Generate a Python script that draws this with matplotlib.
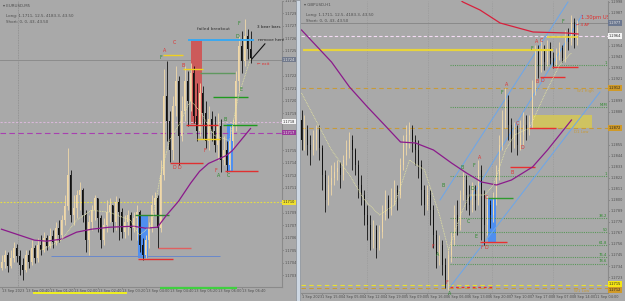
import matplotlib
matplotlib.use("Agg")
import matplotlib.pyplot as plt
import numpy as np
from matplotlib.patches import Rectangle

# ---------------- data: left panel (EURUSD M5) ----------------
left_open0 = 1.17032
left_close = [1.17038,1.17045,1.17034,1.17042,1.17052,1.17044,1.17035,1.17030,1.17045,1.17038,
              1.17052,1.17042,1.17055,1.17050,1.17062,1.17054,1.17064,1.17058,1.17072,1.17065,
              1.17080,1.17094,1.17125,1.17085,1.17092,1.17105,1.17110,1.17085,1.17060,1.17078,
              1.17090,1.17102,1.17082,1.17060,1.17075,1.17088,1.17095,1.17078,1.17098,1.17088,
              1.17068,1.17078,1.17085,1.17072,1.17082,1.17088,1.17055,1.17045,1.17060,1.17072,
              1.17095,1.17102,1.17072,1.17125,1.17205,1.17180,1.17150,1.17195,1.17220,1.17165,
              1.17190,1.17220,1.17200,1.17228,1.17185,1.17170,1.17208,1.17188,1.17160,1.17182,
              1.17170,1.17155,1.17175,1.17140,1.17150,1.17135,1.17160,1.17175,1.17220,1.17255,
              1.17240,1.17265,1.17252,1.17243]
left_high = [1.17045,1.17050,1.17048,1.17050,1.17058,1.17056,1.17050,1.17042,1.17050,1.17050,
             1.17060,1.17055,1.17062,1.17065,1.17068,1.17065,1.17072,1.17070,1.17078,1.17080,
             1.17085,1.17105,1.17152,1.17130,1.17105,1.17110,1.17118,1.17112,1.17090,1.17085,
             1.17095,1.17105,1.17102,1.17085,1.17082,1.17100,1.17102,1.17095,1.17104,1.17102,
             1.17092,1.17085,1.17090,1.17088,1.17088,1.17095,1.17090,1.17062,1.17065,1.17078,
             1.17105,1.17108,1.17105,1.17140,1.17232,1.17240,1.17190,1.17205,1.17235,1.17225,
             1.17205,1.17235,1.17230,1.17238,1.17235,1.17218,1.17218,1.17215,1.17200,1.17195,
             1.17190,1.17185,1.17188,1.17182,1.17165,1.17160,1.17175,1.17182,1.17230,1.17265,
             1.17270,1.17282,1.17272,1.17270]
left_low = [1.17030,1.17032,1.17028,1.17032,1.17038,1.17038,1.17025,1.17020,1.17028,1.17032,
            1.17035,1.17037,1.17038,1.17045,1.17048,1.17050,1.17052,1.17052,1.17055,1.17058,
            1.17062,1.17075,1.17090,1.17078,1.17075,1.17082,1.17090,1.17078,1.17048,1.17045,
            1.17070,1.17080,1.17068,1.17052,1.17055,1.17068,1.17078,1.17068,1.17070,1.17060,
            1.17062,1.17062,1.17065,1.17060,1.17068,1.17060,1.17048,1.17040,1.17042,1.17052,
            1.17068,1.17085,1.17052,1.17068,1.17120,1.17160,1.17138,1.17140,1.17185,1.17135,
            1.17160,1.17180,1.17175,1.17190,1.17178,1.17160,1.17165,1.17162,1.17152,1.17150,
            1.17160,1.17148,1.17140,1.17128,1.17135,1.17128,1.17130,1.17150,1.17170,1.17210,
            1.17228,1.17235,1.17242,1.17238]
left_ma_idx = [0, 11, 15, 20, 25, 30, 36, 44, 48, 52, 55, 59, 63, 66, 69, 75, 77, 83]
left_ma_val = [1.17071,1.17060,1.17059,1.17061,1.17068,1.17071,1.17073,1.17074,1.17072,1.17073,
               1.17085,1.17099,1.17117,1.17129,1.17137,1.17145,1.17150,1.17172]
left_fast_idx = [13, 20, 25, 30, 36, 43, 46, 50, 53, 56, 59, 63, 66, 71, 76, 79, 83]
left_fast_val = [1.17050,1.17060,1.17080,1.17090,1.17088,1.17080,1.17065,1.17075,1.17125,1.17160,
                 1.17175,1.17200,1.17190,1.17165,1.17160,1.17205,1.17242]
left_xlabels = ["13 Sep 2023","13 Sep 00:40","13 Sep 01:20","13 Sep 02:00","13 Sep 02:40",
                "13 Sep 03:20","13 Sep 04:00","13 Sep 04:40","13 Sep 05:20","13 Sep 06:00",
                "13 Sep 06:40"]

# ---------------- data: right panel (GBPUSD H1) ----------------
right_open0 = 1.2880
right_close = [1.2860,1.2870,1.2855,1.2850,1.2860,1.2870,1.2852,1.2825,1.2800,1.2815,
               1.2822,1.2828,1.2832,1.2825,1.2840,1.2850,1.2860,1.2850,1.2835,1.2815,
               1.2805,1.2785,1.2775,1.2760,1.2770,1.2752,1.2768,1.2785,1.2800,1.2790,
               1.2802,1.2810,1.2805,1.2835,1.2855,1.2865,1.2870,1.2860,1.2850,1.2835,
               1.2810,1.2795,1.2805,1.2790,1.2765,1.2745,1.2755,1.2735,1.2720,1.2745,
               1.2760,1.2785,1.2775,1.2805,1.2820,1.2805,1.2795,1.2810,1.2800,1.2830,
               1.2805,1.2775,1.2795,1.2785,1.2800,1.2825,1.2855,1.2880,1.2900,1.2875,
               1.2860,1.2870,1.2855,1.2865,1.2875,1.2870,1.2878,1.2910,1.2948,1.2935,
               1.2950,1.2938,1.2952,1.2942,1.2935,1.2945,1.2952,1.2942,1.2962,1.2958,
               1.2978,1.2960,1.2972]
right_high = [1.2890,1.2885,1.2875,1.2865,1.2870,1.2875,1.2875,1.2855,1.2830,1.2825,
              1.2835,1.2838,1.2840,1.2838,1.2845,1.2860,1.2868,1.2865,1.2852,1.2840,
              1.2825,1.2810,1.2795,1.2785,1.2780,1.2775,1.2775,1.2795,1.2810,1.2805,
              1.2812,1.2820,1.2815,1.2842,1.2865,1.2875,1.2878,1.2875,1.2865,1.2860,
              1.2840,1.2815,1.2815,1.2810,1.2795,1.2770,1.2765,1.2760,1.2742,1.2750,
              1.2768,1.2795,1.2800,1.2810,1.2828,1.2825,1.2815,1.2818,1.2815,1.2840,
              1.2835,1.2810,1.2805,1.2800,1.2808,1.2835,1.2865,1.2890,1.2912,1.2905,
              1.2882,1.2878,1.2875,1.2880,1.2888,1.2885,1.2885,1.2920,1.2955,1.2955,
              1.2960,1.2955,1.2960,1.2958,1.2948,1.2952,1.2958,1.2955,1.2970,1.2972,
              1.2985,1.2982,1.2980]
right_low = [1.2850,1.2850,1.2845,1.2835,1.2845,1.2850,1.2840,1.2810,1.2788,1.2795,
             1.2805,1.2815,1.2820,1.2812,1.2820,1.2835,1.2842,1.2830,1.2825,1.2802,
             1.2795,1.2775,1.2760,1.2750,1.2752,1.2742,1.2750,1.2762,1.2780,1.2782,
             1.2785,1.2795,1.2790,1.2802,1.2830,1.2845,1.2852,1.2848,1.2835,1.2822,
             1.2795,1.2785,1.2790,1.2775,1.2752,1.2732,1.2735,1.2725,1.2712,1.2710,
             1.2738,1.2755,1.2765,1.2770,1.2800,1.2790,1.2785,1.2788,1.2790,1.2795,
             1.2760,1.2755,1.2765,1.2772,1.2778,1.2795,1.2820,1.2850,1.2872,1.2860,
             1.2848,1.2852,1.2845,1.2850,1.2855,1.2860,1.2865,1.2872,1.2905,1.2922,
             1.2928,1.2930,1.2934,1.2936,1.2932,1.2934,1.2940,1.2938,1.2938,1.2950,
             1.2955,1.2952,1.2955]
right_ma_idx = [0, 10, 16, 22, 28, 33, 38, 44, 50, 55, 60, 65, 70, 77, 82, 90]
right_ma_val = [1.2970,1.2938,1.2913,1.2893,1.2874,1.2858,1.2857,1.2850,1.2837,1.2827,
                1.2818,1.2815,1.2820,1.2833,1.2850,1.2880]
right_slow_idx = [50, 53.8, 59.5, 66.2, 77.2, 88.5, 92.2]
right_slow_val = [1.3008,1.2998,1.2990,1.2977,1.2968,1.2967,1.2966]
right_fast_idx = [0, 10, 16, 21, 26, 31, 36, 41, 46, 49, 53, 56, 61, 64, 68, 71, 76, 81, 86, 90]
right_fast_val = [1.2907,1.2850,1.2825,1.2800,1.2785,1.2795,1.2840,1.2830,1.2785,1.2750,
                  1.2785,1.2805,1.2805,1.2815,1.2850,1.2865,1.2872,1.2905,1.2935,1.2947]
right_xlabels = ["1 Sep 2023","1 Sep 15:00","4 Sep 05:00","4 Sep 12:00","4 Sep 19:00",
                 "5 Sep 09:00","5 Sep 16:00","6 Sep 06:00","6 Sep 13:00","6 Sep 20:00",
                 "7 Sep 10:00","7 Sep 17:00","8 Sep 07:00","8 Sep 14:00","11 Sep 04:00"]
fib_levels = [1.2935, 1.2893, 1.2824, 1.2782, 1.2768, 1.2755, 1.2743, 1.2736]
fib_labels = ["1", "M.M", "1", "38.2", "50", "61.8", "76.4", "78.6"]

# ---------------- style ----------------
BG = "#a9a9a9"
BULL = "#f0d8a8"
BEAR = "#111111"
TXT = "#4d4d4d"
FS = 2.9
TFS = 2.5

fig = plt.figure(figsize=(6.25, 3.01), dpi=100, facecolor=BG)
W, H = 625.0, 301.0

def axes_px(x0, y0, x1, y1):
    return fig.add_axes([x0 / W, 1 - y1 / H, (x1 - x0) / W, (y1 - y0) / H])

axL = axes_px(0, 1, 282, 287)
axR = axes_px(301, 1, 608, 293)

for ax in (axL, axR):
    ax.set_facecolor(BG)
    for s in ("top", "left"):
        ax.spines[s].set_visible(False)
    for s in ("right", "bottom"):
        ax.spines[s].set_color("#8a8a8a")
        ax.spines[s].set_linewidth(0.8)
    ax.yaxis.tick_right()
    ax.tick_params(axis="both", labelsize=TFS, colors=TXT, length=1.0, width=0.5, pad=0.6)

def draw_candles(ax, open0, close, high, low):
    n = len(close)
    idx = np.arange(n)
    c = np.array(close); h = np.array(high); l = np.array(low)
    o = np.concatenate([[open0], c[:-1]])
    bull = c >= o
    col = np.where(bull, BULL, BEAR)
    ax.vlines(idx, l, h, colors=col, lw=0.6, zorder=3)
    bottom = np.minimum(o, c)
    height = np.maximum(np.abs(c - o), 1e-7)
    ax.bar(idx, height, bottom=bottom, width=0.62, color=col, linewidth=0, zorder=4)

def tag(ax, y, text, fc, tc="#222222"):
    ax.annotate(text, xy=(1.0, y), xycoords=("axes fraction", "data"),
                xytext=(0.6, 0), textcoords="offset points", fontsize=TFS, color=tc,
                va="center", ha="left", annotation_clip=False, zorder=10,
                bbox=dict(boxstyle="square,pad=0.2", fc=fc, ec="none"))

def free_ticks(ticks, tags, gap):
    return [t for t in ticks if all(abs(t - g) > gap for g in tags)]

# ================= LEFT PANEL =================
left_tags = [1.17241, 1.17179, 1.17168, 1.17098]
axL.set_xlim(-0.5, 93.5)
axL.set_ylim(1.17013, 1.17299)
axL.set_yticks(free_ticks(np.arange(1.17025, 1.17300, 0.000125), left_tags, 0.00007))
axL.yaxis.set_major_formatter(matplotlib.ticker.FormatStrFormatter("%.4f"))
axL.set_xticks(np.arange(0, 84, 8))
axL.set_xticklabels(left_xlabels, ha="left")

axL.axvline(5.5, color="#8c8c8c", lw=0.6, ls=(0, (1, 1)), zorder=1)
axL.axhline(1.17241, color="#8c8c8c", lw=0.7, zorder=1)
axL.axhline(1.17179, color="#d8b8d8", lw=0.8, ls=(0, (2, 1.5)), zorder=2)
axL.axhline(1.17168, color="#a840b0", lw=0.8, ls=(0, (5, 3)), zorder=2)
axL.axhline(1.17098, color="#e8e040", lw=0.8, ls=(0, (1.5, 1.5)), zorder=2)

axL.add_patch(Rectangle((63.2, 1.17177), 3.6, 0.00084, fc="#cc5a5a", ec="none", zorder=1.5))
axL.add_patch(Rectangle((45.5, 1.17042), 3.3, 0.00043, fc="#4f8ff0", ec="none", zorder=1.5))
axL.add_patch(Rectangle((75.2, 1.17128), 2.0, 0.00049, fc="#4f8ff0", ec="none", zorder=1.5))

axL.hlines(1.17261, 62.2, 84.2, color="#3aa8f0", lw=1.4, zorder=5)
for y, x0, x1 in [(1.17246, 53.8, 60.5), (1.17232, 60.5, 67.2), (1.17162, 65.2, 72.8)]:
    axL.hlines(y, x0, x1, color="#f0d020", lw=1.0, zorder=5)
for y, x0, x1, c in [(1.17228, 66.2, 77.8, "#5f985f"), (1.17204, 70.5, 82.2, "#1f9a1f"),
                     (1.17176, 73.8, 85.2, "#1f9a1f"), (1.17085, 44.5, 55.8, "#2f8a2f")]:
    axL.hlines(y, x0, x1, color=c, lw=1.0, zorder=5)
for y, x0, x1, c in [(1.17176, 61.5, 72.2, "#e02828"), (1.17137, 56.2, 67.2, "#e03030"),
                     (1.17129, 74.5, 85.5, "#e03030"), (1.17052, 52.2, 63.2, "#e06060"),
                     (1.17041, 45.5, 57.2, "#e03030")]:
    axL.hlines(y, x0, x1, color=c, lw=1.0, zorder=5)
axL.hlines(1.17044, 16.5, 72.8, color="#6a88cc", lw=0.7, zorder=2)

axL.plot(left_ma_idx, left_ma_val, color="#8b1a8b", lw=0.9, zorder=6)
axL.plot(left_fast_idx, left_fast_val, color="#e8e8a0", lw=0.6, ls=(0, (1, 1)), zorder=6)
draw_candles(axL, left_open0, left_close, left_high, left_low)

axL.hlines(1.17007, 10.5, 41.8, color="#f0f020", lw=1.4, clip_on=False, zorder=7)
axL.hlines(1.17012, 52.8, 78.5, color="#40d040", lw=1.6, clip_on=False, zorder=7)

for s, x, y, c in [("A", 54.5, 1.17250, "#e03030"), ("F", 53.2, 1.17243, "#2a8a2a"),
                   ("C", 57.5, 1.17258, "#e03030"), ("B", 60.5, 1.17235, "#e03030"),
                   ("F", 79.2, 1.17277, "#2a8a2a"), ("D", 78.5, 1.17264, "#2a8a2a"),
                   ("E", 79.8, 1.17211, "#2a8a2a"), ("B", 74.5, 1.17181, "#2a8a2a"),
                   ("F", 67.8, 1.17150, "#e03030"), ("D", 57.5, 1.17133, "#e03030"),
                   ("D", 59.2, 1.17133, "#e03030"), ("F", 71.5, 1.17130, "#e03030"),
                   ("A", 72.5, 1.17125, "#2a8a2a"), ("C", 75.5, 1.17125, "#2a8a2a")]:
    axL.text(x, y, s, color=c, fontsize=3.4, ha="center", va="center", zorder=8)
axL.text(70.8, 1.17272, "failed breakout", fontsize=3.2, color="#333333", ha="center", va="center", zorder=8)
axL.text(85.3, 1.17274, "3 bear bars", fontsize=3.0, color="#222222", ha="left", va="center", zorder=8)
axL.text(85.6, 1.17261, "remove here", fontsize=3.0, color="#222222", ha="left", va="center", zorder=8)
axL.text(85.2, 1.17237, "\u2190 exit", fontsize=3.0, color="#e03030", ha="left", va="center", zorder=8)
axL.plot([83.5, 87.8], [1.17242, 1.17257], color="#111111", lw=0.8, zorder=8)
axL.text(0.5, 1.17297, "\u25be EURUSD,M5", fontsize=FS, color=TXT, va="top", zorder=8)
axL.text(1.5, 1.17287, "Long: 1.1711, 12.5, 4183.3, 43.50", fontsize=FS, color=TXT, va="top", zorder=8)
axL.text(1.5, 1.17281, "Short: 0, 0, 43, 43.50", fontsize=FS, color=TXT, va="top", zorder=8)

tag(axL, 1.17241, "1.1724", "#727a8c", "#e8e8e8")
tag(axL, 1.17179, "1.1718", "#f4f4f4")
tag(axL, 1.17168, "1.1717", "#9a3a9a", "#eeeeee")
tag(axL, 1.17098, "1.1710", "#f0e030")

# ================= RIGHT PANEL =================
right_tags = [1.2977, 1.2964, 1.2912, 1.2872, 1.2715, 1.2711]
axR.set_xlim(-0.1667, 102.17)
axR.set_ylim(1.2707, 1.2999)
axR.set_yticks(free_ticks(np.arange(1.2723, 1.2999, 0.0011), right_tags, 0.0006))
axR.yaxis.set_major_formatter(matplotlib.ticker.FormatStrFormatter("%.4f"))
axR.set_xticks(np.arange(0, 102, 7))
axR.set_xticklabels(right_xlabels, ha="left")

for xv in [21.8, 42.2, 63.5, 83.8]:
    axR.axvline(xv, color="#959595", lw=0.5, ls=(0, (1, 1.5)), zorder=1)
axR.axhline(1.2977, color="#8a8a8a", lw=0.7, zorder=1)
axR.axhline(1.2964, color="#f4dcf4", lw=0.8, ls=(0, (3, 2)), zorder=2)
axR.axhline(1.2912, color="#c89a38", lw=0.8, ls=(0, (4, 3)), zorder=2)
axR.axhline(1.2872, color="#c89a38", lw=0.8, ls=(0, (4, 3)), zorder=2)
axR.axhline(1.2715, color="#e8e030", lw=0.8, ls=(0, (4, 3)), zorder=2)
axR.axhline(1.2712, color="#c89a38", lw=0.8, ls=(0, (4, 3)), zorder=2)
for lv in fib_levels:
    axR.hlines(lv, 49.5, 102.17, color="#5a985a", lw=0.8, ls=(0, (1, 1)), zorder=2)

axR.add_patch(Rectangle((77.2, 1.2872), 19.6, 0.0013, fc="#d4c65a", ec="none", alpha=0.9, zorder=1.5))
axR.add_patch(Rectangle((62.2, 1.2758), 2.6, 0.0044, fc="#4f8ff0", ec="none", zorder=1.5))

for (xa, ya), (xb, yb) in [((46.17, 1.2800), (88.83, 1.2998)),
                           ((56.17, 1.2800), (93.5, 1.2985)),
                           ((49.5, 1.2713), (99.5, 1.2908))]:
    axR.plot([xa, xb], [ya, yb], color="#6aa6ec", lw=0.7, zorder=2)

axR.hlines(1.2950, 0.5, 84, color="#e8d43a", lw=1.6, zorder=5)
axR.hlines(1.2963, 81.8, 92.2, color="#e8d43a", lw=1.2, zorder=5)
for y, x0, x1, ls in [(1.2923, 79.5, 87.8, "-"), (1.2933, 83.5, 92.2, "-"), (1.2872, 76, 85, "-"),
                      (1.2833, 69.5, 77.8, "-"), (1.2758, 59.5, 68.5, "-"), (1.2713, 49.5, 63.5, (0, (2, 2)))]:
    axR.hlines(y, x0, x1, color="#e83030", lw=1.0, ls=ls, zorder=5)
axR.hlines(1.2802, 62.2, 70.5, color="#2f9a2f", lw=1.0, zorder=5)

axR.plot(right_ma_idx, right_ma_val, color="#8b1a8b", lw=0.9, zorder=6)
axR.plot(right_slow_idx, right_slow_val, color="#d8203c", lw=0.9, zorder=6)
axR.plot(right_fast_idx, right_fast_val, color="#e8e8a0", lw=0.6, ls=(0, (1, 1)), zorder=6)
draw_candles(axR, right_open0, right_close, right_high, right_low)

for s, x, y, c in [("A", 68.5, 1.2916, "#e03030"), ("F", 66.8, 1.2908, "#2a8a2a"),
                   ("A", 78.5, 1.2959, "#e03030"), ("C", 79.8, 1.2960, "#e03030"),
                   ("F", 76.8, 1.2952, "#2a8a2a"), ("B", 78.5, 1.2919, "#e03030"),
                   ("D", 80.2, 1.2920, "#e03030"), ("F", 87.2, 1.2979, "#2a8a2a"),
                   ("C", 71.8, 1.2877, "#e03030"), ("D", 73.5, 1.2853, "#e03030"),
                   ("A", 59.2, 1.2843, "#e03030"), ("F", 57.5, 1.2835, "#2a8a2a"),
                   ("B", 53.5, 1.2833, "#2a8a2a"), ("B", 47.2, 1.2815, "#2a8a2a"),
                   ("D", 56.8, 1.2812, "#2a8a2a"), ("C", 61.5, 1.2803, "#e03030"),
                   ("C", 55.5, 1.2779, "#2a8a2a"), ("E", 58.2, 1.2764, "#2a8a2a"),
                   ("F", 43.8, 1.2754, "#e03030"), ("A", 45.2, 1.2746, "#2a8a2a"),
                   ("F", 48.5, 1.2718, "#e03030"), ("A", 49.5, 1.2707, "#2a8a2a"),
                   ("F", 60.2, 1.2753, "#e03030"), ("D", 61.5, 1.2753, "#e03030"),
                   ("B", 70.2, 1.2828, "#e03030")]:
    axR.text(x, y, s, color=c, fontsize=3.4, ha="center", va="center", zorder=8)
axR.text(93.3, 1.2983, "1.30pm US CPI", fontsize=3.8, color="#e03030", ha="left", va="center",
         zorder=8, clip_on=True)
axR.text(91.5, 1.2975, "\u2190 4 AP", fontsize=2.8, color="#e03030", ha="left", va="center", zorder=8)
axR.text(92.0, 1.2909, "W1 High", fontsize=2.8, color="#c89a38", ha="left", va="center", zorder=8)
axR.text(91.0, 1.2868, "D1 Low", fontsize=2.8, color="#c89a38", ha="left", va="center", zorder=8)
axR.text(91.0, 1.2709, "W1 Low", fontsize=2.8, color="#c89a38", ha="left", va="center", zorder=8)
for lv, lb in zip(fib_levels, fib_labels):
    axR.text(101.9, lv + 0.00005, lb, fontsize=2.7, color="#2a8a2a", ha="right", va="bottom", zorder=8)
axR.text(0.8, 1.2997, "\u25be GBPUSD,H1", fontsize=FS, color=TXT, va="top", zorder=8)
axR.text(1.5, 1.2987, "Long: 1.1711, 12.5, 4183.3, 43.50", fontsize=FS, color=TXT, va="top", zorder=8)
axR.text(1.5, 1.2981, "Short: 0, 0, 43, 43.50", fontsize=FS, color=TXT, va="top", zorder=8)

tag(axR, 1.2977, "1.2977", "#6c7890", "#e8e8e8")
tag(axR, 1.2964, "1.2964", "#f4f4f4")
tag(axR, 1.2912, "1.2912", "#d09a28")
tag(axR, 1.2872, "1.2872", "#d09a28")
tag(axR, 1.2716, "1.2715", "#f5e614")
tag(axR, 1.2710, "1.2712", "#d09a28")

# separator strip between the two windows
fig.patches.append(Rectangle((296 / W, 0), 4 / W, 1, transform=fig.transFigure,
                             fc="#cdd7e2", ec="#8a9098", lw=0.5, zorder=0))

fig.savefig("out.png", dpi=100, facecolor=BG)
